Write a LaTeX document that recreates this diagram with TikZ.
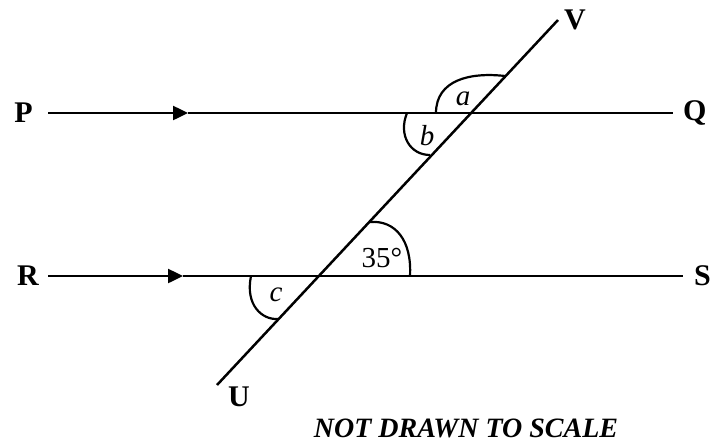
\documentclass[tikz,border=0pt]{standalone}
\usepackage{fontspec}
\setmainfont{Liberation Serif}
\usetikzlibrary{positioning, arrows.meta}

\begin{document}
\begin{tikzpicture}[
  x=1pt, y=-1pt,
  line/.style={line width=2.5pt},
  anglearc/.style={line width=2.2pt},
  pt/.style={inner sep=0pt, font=\bfseries\fontsize{30}{32}\selectfont},
  ang/.style={inner sep=0pt, font=\itshape\fontsize{29}{31}\selectfont},
  tip/.style={-{Triangle[length=15pt, width=14pt]}}
]
  \useasboundingbox (0,0) rectangle (713,445);

  % Ends of the two parallel lines and the transversal
  \coordinate (P0) at (48,113);
  \coordinate (Q0) at (673,113);
  \coordinate (R0) at (48,276);
  \coordinate (S0) at (683,276);
  \coordinate (U0) at (217,385);
  \coordinate (V0) at (558,20);
  \coordinate (PA) at (188,113);
  \coordinate (RA) at (183,276);

  % Lines
  \draw[line, tip] (P0) -- (PA);
  \draw[line] (PA) -- (Q0);
  \draw[line, tip] (R0) -- (RA);
  \draw[line] (RA) -- (S0);
  \draw[line] (U0) -- (V0);

  % Point labels
  \node[pt, left=15pt of P0] (P) {P};
  \node[pt, right=10pt of Q0] (Q) {Q};
  \node[pt, left=9pt of R0] (R) {R};
  \node[pt, right=11pt of S0] (S) {S};
  \node[pt, right=6pt of V0] (V) {V};
  \node[pt, below right=2pt and 11pt of U0] (U) {U};

  % Angle marks
  \draw[anglearc] (436,113) .. controls (436,80) and (470,72) .. (505,76);
  \draw[anglearc] (407,113) .. controls (398,135) and (410,155) .. (430,155);
  \draw[anglearc] (410,276) .. controls (412,240) and (395,220) .. (370,222);
  \draw[anglearc] (251,276) .. controls (245,305) and (262,320) .. (278,319);

  \node[ang] (a) at (463,99) {a};
  \node[ang] (b) at (427,136) {b};
  \node[ang] (c) at (276,295) {c};
  \node[inner sep=0pt, font=\fontsize{29}{31}\selectfont] (deg) at (382,258) {35°};

  % Note
  \node[inner sep=0pt, font=\bfseries\itshape\fontsize{28}{30}\selectfont] (note) at (466,428) {NOT DRAWN TO SCALE};
\end{tikzpicture}
\end{document}
